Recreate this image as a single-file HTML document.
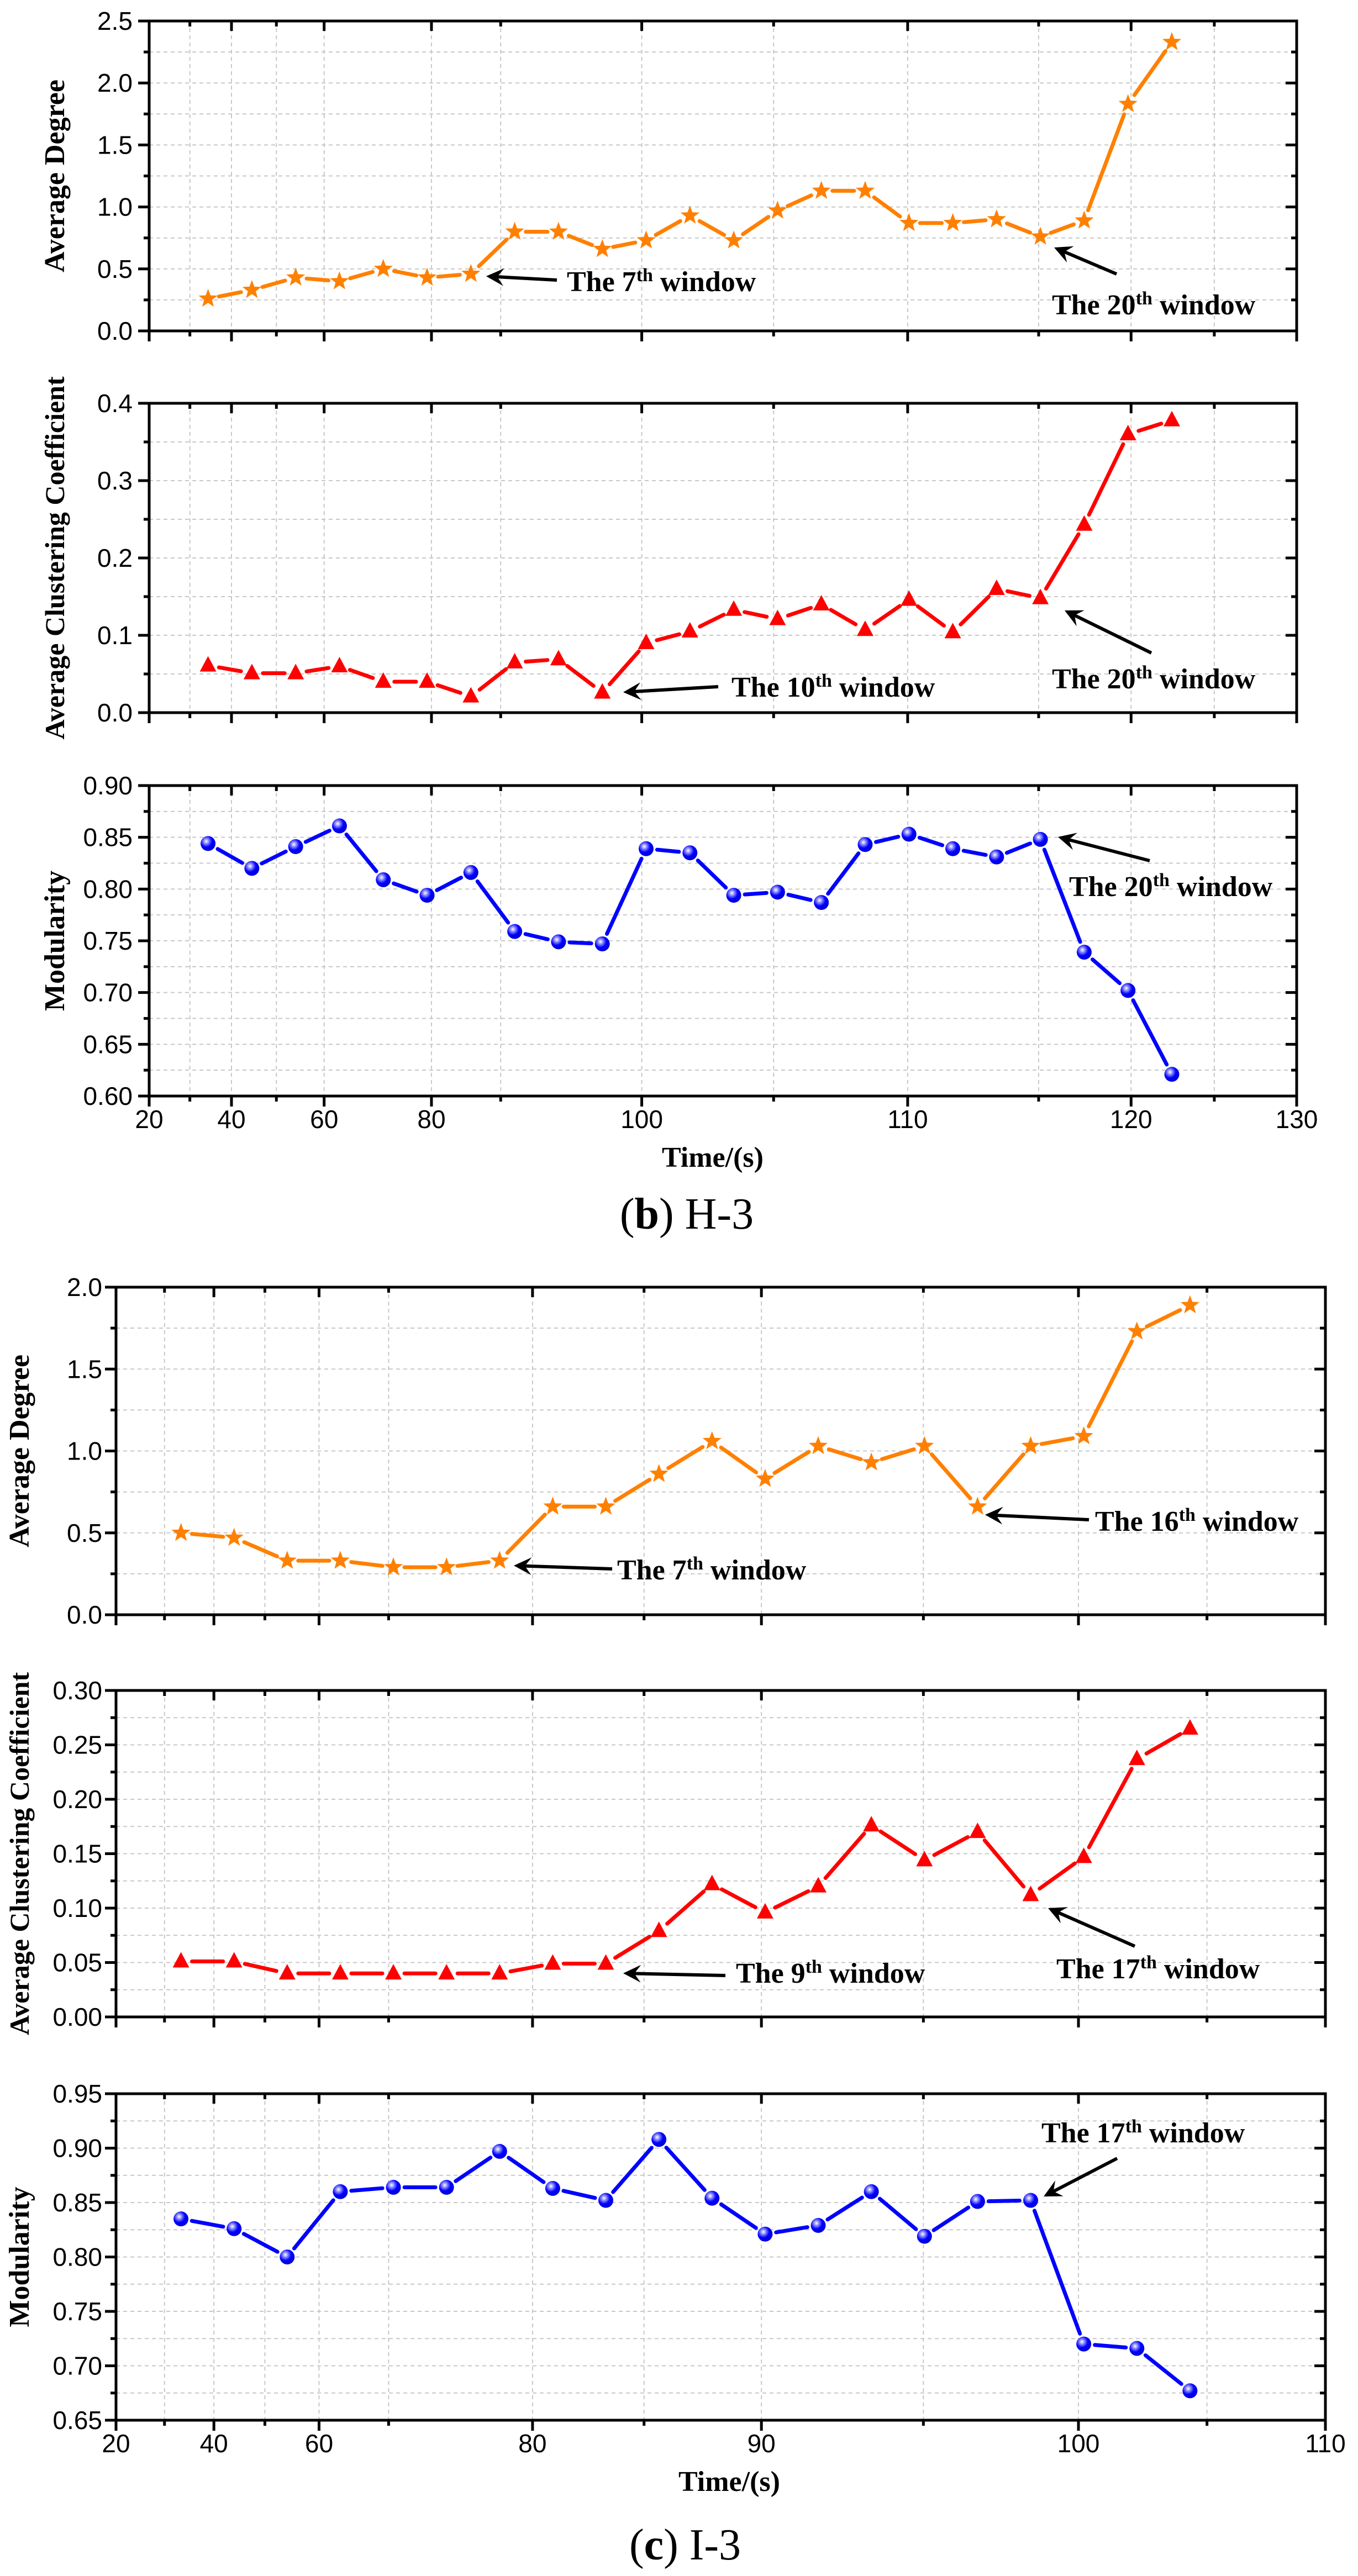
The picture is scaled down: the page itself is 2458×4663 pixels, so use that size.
<!DOCTYPE html>
<html><head><meta charset="utf-8"><title>Network metrics H-3 and I-3</title>
<style>
html,body{margin:0;padding:0;background:#fff;}
svg{display:block;}
</style></head>
<body>
<svg id="fig" xmlns="http://www.w3.org/2000/svg" width="2458" height="4663" viewBox="0 0 2458 4663">
<rect width="2458" height="4663" fill="#fff"/>
<defs>
<radialGradient id="ballGrad" cx="0.38" cy="0.35" r="0.65">
<stop offset="0" stop-color="#ffffff"/><stop offset="0.25" stop-color="#8f8fff"/><stop offset="0.6" stop-color="#0000ff"/><stop offset="1" stop-color="#0000d8"/>
</radialGradient>
</defs>
<text x="1243" y="2224" text-anchor="middle" font-family="Liberation Serif, serif" font-size="80">(<tspan font-weight="bold">b</tspan>) H-3</text>
<text x="1240" y="4633" text-anchor="middle" font-family="Liberation Serif, serif" font-size="80">(<tspan font-weight="bold">c</tspan>) I-3</text>
</svg>
<script>
// ---- Panel (b) H-3 data ----
const bWindows = [1,2,3,4,5,6,7,8,9,10,11,12,13,14,15,16,17,18,19,20,21,22,23];
const bDegree = [0.26,0.33,0.43,0.40,0.50,0.43,0.46,0.80,0.80,0.66,0.73,0.93,0.73,0.97,1.13,1.13,0.87,0.87,0.90,0.76,0.89,1.83,2.33];
const bClustering = [0.061,0.051,0.051,0.060,0.040,0.040,0.021,0.065,0.069,0.026,0.090,0.105,0.133,0.121,0.140,0.107,0.146,0.104,0.160,0.148,0.243,0.360,0.378];
const bModularity = [0.844,0.820,0.841,0.861,0.809,0.794,0.816,0.759,0.749,0.747,0.839,0.835,0.794,0.797,0.787,0.843,0.853,0.839,0.831,0.848,0.739,0.702,0.621];
const bTimeLabels = ["20","40","60","80","100","110","120","130"];
const bTimeLabelAt = [-0.344,1.535,3.65,6.10,10.90,16.97,22.07,25.85];
const bTimeMinorAt = [0.585,2.56,7.68,13.91,19.96,23.97];
const bDegreeTicks = [0,0.5,1.0,1.5,2.0,2.5];
const bClusterTicks = [0,0.1,0.2,0.3,0.4];
const bModTicks = [0.60,0.65,0.70,0.75,0.80,0.85,0.90];

// ---- Panel (c) I-3 data ----
const cWindows = [1,2,3,4,5,6,7,8,9,10,11,12,13,14,15,16,17,18,19,20];
const cDegree = [0.50,0.47,0.33,0.33,0.29,0.29,0.33,0.66,0.66,0.86,1.06,0.83,1.03,0.93,1.03,0.66,1.03,1.09,1.73,1.89];
const cClustering = [0.051,0.051,0.040,0.040,0.040,0.040,0.040,0.049,0.049,0.079,0.122,0.096,0.120,0.176,0.144,0.170,0.112,0.147,0.237,0.265];
const cModularity = [0.835,0.826,0.800,0.860,0.864,0.864,0.897,0.863,0.852,0.908,0.854,0.821,0.829,0.860,0.819,0.851,0.852,0.720,0.716,0.677];
const cTimeLabels = ["20","40","60","80","90","100","110"];
const cTimeLabelAt = [-0.223,1.62,3.60,7.62,11.93,17.9,22.55];
const cTimeMinorAt = [0.69,2.58,4.91,9.72,14.98,20.32];
const cDegreeTicks = [0,0.5,1.0,1.5,2.0];
const cClusterTicks = [0,0.05,0.10,0.15,0.20,0.25,0.30];
const cModTicks = [0.65,0.70,0.75,0.80,0.85,0.90,0.95];

const NS = "http://www.w3.org/2000/svg";
const svg = document.getElementById("fig");
function mk(tag, attrs, parent){
  const e = document.createElementNS(NS, tag);
  for (const k in attrs) e.setAttribute(k, attrs[k]);
  (parent||svg).appendChild(e);
  return e;
}

function drawPlot(o){
  const g = mk("g", {});
  
  
  const xs = i => o.left + (i - o.xmin)/(o.xmax - o.xmin)*(o.right - o.left);
  const ys = v => o.bottom - (v - o.ymin)/(o.ymax - o.ymin)*(o.bottom - o.top);
  const yt = o.yTicks;
  const yMinor = [];
  for (let k=0;k<yt.length-1;k++) yMinor.push((yt[k]+yt[k+1])/2);
  const grid = mk("g", {stroke:"#c8c8c8","stroke-width":2,"stroke-dasharray":"7,6",fill:"none"}, g);
  
  
  yt.concat(yMinor).forEach(v => { const y=ys(v); if (y>o.top+3 && y<o.bottom-3) mk("line",{x1:o.left,x2:o.right,y1:y,y2:y},grid); });
  o.xLabelAt.concat(o.xMinorAt).forEach(i => { const x=xs(i); if (x>o.left+3 && x<o.right-3) mk("line",{x1:x,x2:x,y1:o.top,y2:o.bottom},grid); });
  const tk = mk("g",{stroke:"#000","stroke-width":5}, g);
  
  
  yt.forEach(v => { const y=ys(v); mk("line",{x1:o.left-20,x2:o.left,y1:y,y2:y},tk); mk("line",{x1:o.right-20,x2:o.right,y1:y,y2:y},tk); });
  yMinor.forEach(v => { const y=ys(v); mk("line",{x1:o.left-10,x2:o.left,y1:y,y2:y},tk); mk("line",{x1:o.right-10,x2:o.right,y1:y,y2:y},tk); });
  o.xLabelAt.forEach(i => { const x=xs(i); mk("line",{x1:x,x2:x,y1:o.bottom,y2:o.bottom+19},tk); mk("line",{x1:x,x2:x,y1:o.top,y2:o.top+18},tk); });
  o.xMinorAt.forEach(i => { const x=xs(i); mk("line",{x1:x,x2:x,y1:o.bottom,y2:o.bottom+10},tk); mk("line",{x1:x,x2:x,y1:o.top,y2:o.top+10},tk); });
  const fr = mk("rect",{x:o.left,y:o.top,width:o.right-o.left,height:o.bottom-o.top,fill:"none",stroke:"#000","stroke-width":5}, g);
  
  
  yt.forEach(v => {
    const t = mk("text",{x:o.labelRight,y:ys(v)+16,"text-anchor":"end","font-family":"Liberation Sans, sans-serif","font-size":46}, g);
    
    
    t.textContent = v.toFixed(o.dec);
  });
  if (o.showX){
    o.xLabels.forEach((lab,k) => {
      const t = mk("text",{x:xs(o.xLabelAt[k]),y:o.bottom+58,"text-anchor":"middle","font-family":"Liberation Sans, sans-serif","font-size":46}, g);
      
      
      t.textContent = lab;
    });
    const xt = mk("text",{x:o.xTitleX,y:o.bottom+128,"text-anchor":"middle","font-family":"Liberation Serif, serif","font-weight":"bold","font-size":52}, g);
    
    
    xt.textContent = "Time/(s)";
  }
  const cy = (o.top+o.bottom)/2;
  const yt2 = mk("text",{x:o.titleX,y:cy,"text-anchor":"middle","font-family":"Liberation Serif, serif","font-weight":"bold","font-size":o.titleSize||52,transform:`rotate(-90 ${o.titleX} ${cy})`}, g);
  
  
  yt2.textContent = o.title;
  const pts = o.x.map((w,k)=>[xs(w), ys(o.y[k])]);
  const sg = mk("g",{}, g);
  
  
  const gap = 20;
  for (let k=0;k<pts.length-1;k++){
    const [x1,y1]=pts[k],[x2,y2]=pts[k+1];
    const d=Math.hypot(x2-x1,y2-y1); if (d<2*gap+2) continue;
    const ux=(x2-x1)/d, uy=(y2-y1)/d;
    const seg = mk("line",{x1:x1+ux*gap,y1:y1+uy*gap,x2:x2-ux*gap,y2:y2-uy*gap,stroke:o.color,"stroke-width":7,"stroke-linecap":"round"}, sg);
    
    
  }
  pts.forEach(([x,y]) => {
    let m;
    if (o.marker==="star"){
      let p=[]; for(let j=0;j<10;j++){const r=j%2?7.5:18;const a=-Math.PI/2+j*Math.PI/5;p.push((x+r*Math.cos(a)).toFixed(1)+","+(y+r*Math.sin(a)).toFixed(1));}
      m = mk("polygon",{points:p.join(" "),fill:o.color}, sg);
    } else if (o.marker==="tri"){
      m = mk("polygon",{points:`${x},${y-17} ${x-15},${y+11} ${x+15},${y+11}`,fill:o.color}, sg);
    } else {
      m = mk("circle",{cx:x,cy:y,r:13.5,fill:"url(#ballGrad)"}, sg);
    }
    
    
  });
}

function arrow(x1,y1,x2,y2,name){
  const g = mk("g",{});
  
  
  const d=Math.hypot(x2-x1,y2-y1), ux=(x2-x1)/d, uy=(y2-y1)/d;
  const L=32, W=16;
  const bx=x2-ux*L, by=y2-uy*L;
  mk("line",{x1:x1,y1:y1,x2:x2-ux*18,y2:y2-uy*18,stroke:"#000","stroke-width":6}, g);
  mk("polygon",{points:`${x2},${y2} ${bx-uy*W},${by+ux*W} ${x2-ux*20},${y2-uy*20} ${bx+uy*W},${by-ux*W}`,fill:"#000"}, g);
}
function note(x,y,num,name){
  const t = mk("text",{x:x,y:y+17,"font-family":"Liberation Serif, serif","font-weight":"bold","font-size":52});
  
  
  t.innerHTML = `The ${num}<tspan baseline-shift="super" font-size="34">th</tspan> window`;
}

const bBase = {left:270,right:2347,xmin:-0.344,xmax:25.85,xLabelAt:bTimeLabelAt,xMinorAt:bTimeMinorAt,xLabels:bTimeLabels,x:bWindows,labelRight:240,titleX:116,xTitleX:1290};
drawPlot(Object.assign({},bBase,{name:"b-degree-plot",series:"b-degree",top:38,bottom:599,ymin:0,ymax:2.5,yTicks:bDegreeTicks,dec:1,y:bDegree,color:"#ff8000",marker:"star",title:"Average Degree"}));
drawPlot(Object.assign({},bBase,{name:"b-clustering-plot",series:"b-clustering",top:730,bottom:1290,ymin:0,ymax:0.4,yTicks:bClusterTicks,dec:1,y:bClustering,color:"#ff0000",marker:"tri",title:"Average Clustering Coefficient",titleSize:50}));
drawPlot(Object.assign({},bBase,{name:"b-modularity-plot",series:"b-modularity",top:1422,bottom:1984,ymin:0.60,ymax:0.90,yTicks:bModTicks,dec:2,y:bModularity,color:"#0000ff",marker:"ball",title:"Modularity",showX:true}));

const cBase = {left:210,right:2399,xmin:-0.223,xmax:22.55,xLabelAt:cTimeLabelAt,xMinorAt:cTimeMinorAt,xLabels:cTimeLabels,x:cWindows,labelRight:185,titleX:52,xTitleX:1320};
drawPlot(Object.assign({},cBase,{name:"c-degree-plot",series:"c-degree",top:2330,bottom:2923,ymin:0,ymax:2.0,yTicks:cDegreeTicks,dec:1,y:cDegree,color:"#ff8000",marker:"star",title:"Average Degree"}));
drawPlot(Object.assign({},cBase,{name:"c-clustering-plot",series:"c-clustering",top:3060,bottom:3651,ymin:0,ymax:0.30,yTicks:cClusterTicks,dec:2,y:cClustering,color:"#ff0000",marker:"tri",title:"Average Clustering Coefficient",titleSize:50}));
drawPlot(Object.assign({},cBase,{name:"c-modularity-plot",series:"c-modularity",top:3790,bottom:4381,ymin:0.65,ymax:0.95,yTicks:cModTicks,dec:2,y:cModularity,color:"#0000ff",marker:"ball",title:"Modularity",showX:true}));

// annotations panel b
arrow(1008,507,880,500,"arrow-b-7th"); note(1026,510,7,"note-b-7th");
arrow(2021,496,1908,448,"arrow-b-20th-deg"); note(1904,552,20,"note-b-20th-deg");
arrow(1300,1243,1128,1253,"arrow-b-10th"); note(1324,1244,10,"note-b-10th");
arrow(2084,1182,1927,1105,"arrow-b-20th-cc"); note(1904,1229,20,"note-b-20th-cc");
arrow(2081,1558,1915,1515,"arrow-b-20th-mod"); note(1935,1605,20,"note-b-20th-mod");
// annotations panel c
arrow(1108,2840,930,2834,"arrow-c-7th"); note(1117,2842,7,"note-c-7th");
arrow(1971,2751,1783,2742,"arrow-c-16th"); note(1982,2754,16,"note-c-16th");
arrow(1313,3576,1128,3572,"arrow-c-9th"); note(1332,3572,9,"note-c-9th");
arrow(2054,3523,1897,3454,"arrow-c-17th-cc"); note(1912,3564,17,"note-c-17th-cc");
arrow(2022,3907,1889,3976,"arrow-c-17th-mod"); note(1885,3861,17,"note-c-17th-mod");
</script>
</body></html>
